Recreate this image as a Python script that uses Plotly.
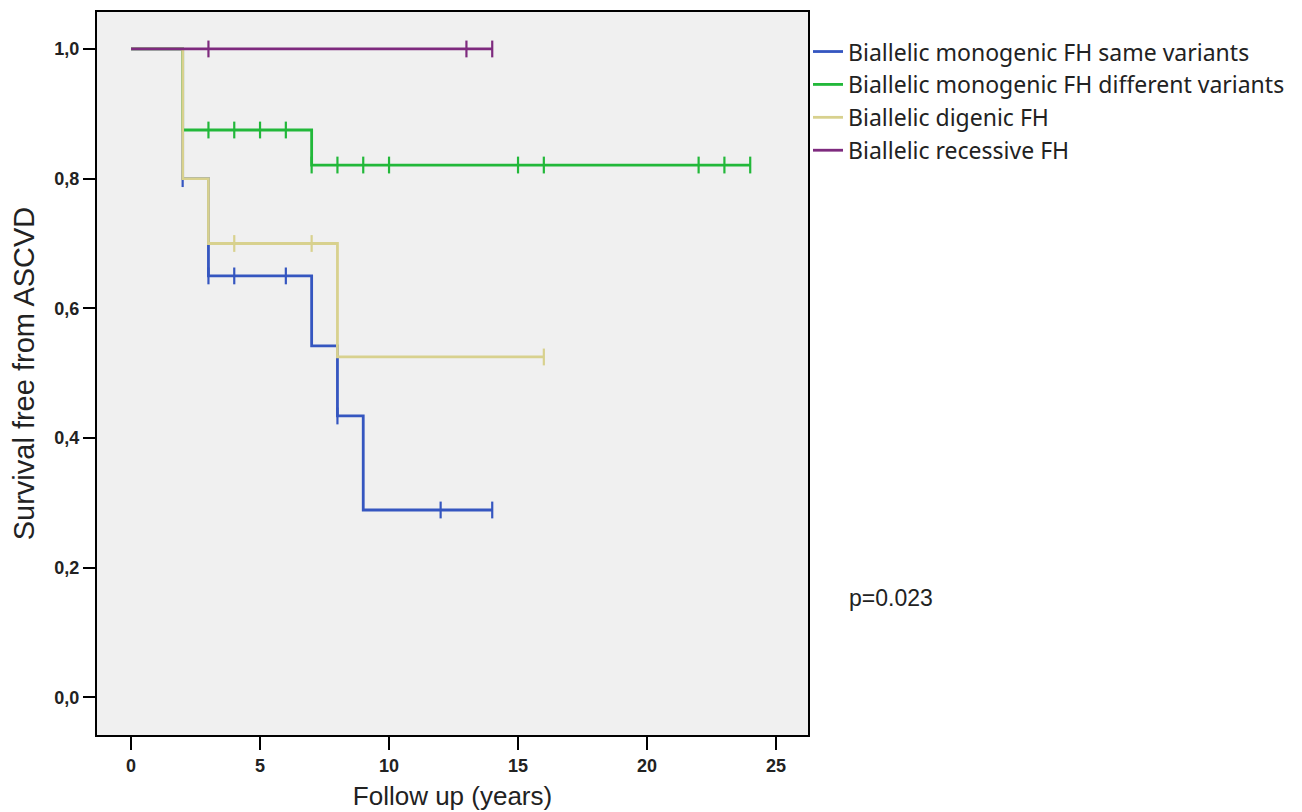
import plotly.graph_objects as go

# Kaplan-Meier step data (time in years, survival)
same_t = [0, 2, 3, 7, 8, 9, 14]
same_s = [1.0, 0.80, 0.65, 0.542, 0.434, 0.289, 0.289]
same_cens = [2, 3, 4, 6, 8, 12, 14]

diff_t = [0, 2, 7, 24]
diff_s = [1.0, 0.875, 0.821, 0.821]
diff_cens = [3, 4, 5, 6, 7, 8, 9, 10, 15, 16, 22, 23, 24]

digenic_t = [0, 2, 3, 8, 16]
digenic_s = [1.0, 0.80, 0.70, 0.525, 0.525]
digenic_cens = [4, 7, 16]

recessive_t = [0, 14]
recessive_s = [1.0, 1.0]
recessive_cens = [3, 13, 14]

names = ["Biallelic monogenic FH same variants",
         "Biallelic monogenic FH different variants",
         "Biallelic digenic FH",
         "Biallelic recessive FH"]
colors = ["#3556c0", "#22b83a", "#d8d18e", "#7e2a7e"]

x_ticks = [0, 5, 10, 15, 20, 25]
y_ticks = [0.0, 0.2, 0.4, 0.6, 0.8, 1.0]


def surv_at(ts, ss, t):
    v = ss[0]
    for ti, si in zip(ts, ss):
        if ti <= t:
            v = si
    return v


groups = [(same_t, same_s, same_cens), (diff_t, diff_s, diff_cens),
          (digenic_t, digenic_s, digenic_cens), (recessive_t, recessive_s, recessive_cens)]

fig = go.Figure()
for (ts, ss, cens), name, col in zip(groups, names, colors):
    fig.add_trace(go.Scatter(x=ts, y=ss, mode="lines", line=dict(shape="hv", color=col, width=2.8),
                             name=name, legendgroup=name))
    fig.add_trace(go.Scatter(x=cens, y=[surv_at(ts, ss, c) for c in cens], mode="markers",
                             marker=dict(symbol="line-ns", size=12, line=dict(color=col, width=2.2)),
                             showlegend=False, legendgroup=name, hoverinfo="skip"))

fig.add_annotation(x=1.055, y=0.19, xref="paper", yref="paper", text="p=0.023", showarrow=False,
                   xanchor="left", yanchor="middle", font=dict(size=23, color="#222", family="Liberation Sans, Arial"))

tick_font = dict(size=18, color="#222", family="Liberation Sans, Arial", weight="bold")

fig.update_layout(
    width=1302, height=812,
    margin=dict(l=89, r=502, t=2, b=85),
    paper_bgcolor="white", plot_bgcolor="#f0f0f0",
    separators=",.",
    font=dict(family="Liberation Sans, Arial", color="#222"),
    showlegend=True,
    legend=dict(x=1.0, y=0.975, xanchor="left", yanchor="top", bgcolor="rgba(0,0,0,0)",
                font=dict(size=23, color="#222", family="Noto Sans, Arial"), tracegroupgap=0,
                itemwidth=30),
    xaxis=dict(range=[-1.32, 26.24], tickvals=x_ticks, ticks="outside", ticklen=13, tickwidth=2,
               tickcolor="black", showline=True, linecolor="black", linewidth=2, mirror=True,
               showgrid=False, zeroline=False, tickfont=tick_font,
               title=dict(text="Follow up (years)", font=dict(size=26, color="#222"), standoff=12)),
    yaxis=dict(range=[-0.058, 1.057], tickvals=y_ticks, tickformat=".1f", ticks="outside", ticklen=12,
               tickwidth=2, tickcolor="black", showline=True, linecolor="black", linewidth=2, mirror=True,
               showgrid=False, zeroline=False, tickfont=tick_font,
               title=dict(text="Survival free from ASCVD", font=dict(size=29, color="#222"), standoff=12)),
)

fig.write_html("out.html")
